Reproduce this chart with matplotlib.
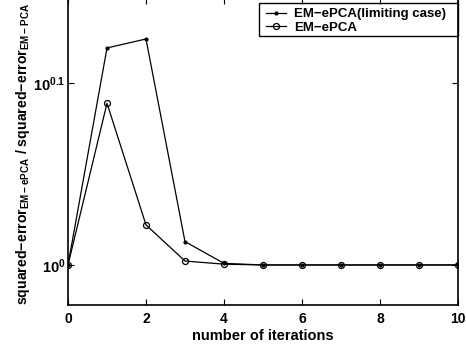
import matplotlib

matplotlib.use("Agg")
import matplotlib.pyplot as plt
from matplotlib.patches import Rectangle

plt.rcParams.update(
    {
        "font.family": ["Liberation Sans", "DejaVu Sans"],
        "font.weight": "bold",
        "axes.labelweight": "bold",
        "mathtext.fontset": "custom",
        "mathtext.rm": "Liberation Sans:bold",
        "mathtext.bf": "Liberation Sans:bold",
        "mathtext.it": "Liberation Sans:bold",
        "mathtext.sf": "Liberation Sans:bold",
        "axes.unicode_minus": True,
    }
)

iterations = [0, 1, 2, 3, 4, 5, 6, 7, 8, 9, 10]
ratio_limiting = [1.0, 1.316, 1.331, 1.030, 1.002, 1.0, 1.0, 1.0, 1.0, 1.0, 1.0]
ratio_epca = [1.0, 1.227, 1.052, 1.005, 1.001, 1.0, 1.0, 1.0, 1.0, 1.0, 1.0]
xticks = [0, 2, 4, 6, 8, 10]
yticks = [1.0, 10 ** 0.1]
ytick_labels = [r"$10^{0}$", r"$10^{0.1}$"]

W, H = 466, 348
fig = plt.figure(figsize=(W / 100, H / 100), dpi=100, facecolor="white")
ax = fig.add_axes([68 / W, (H - 305) / H, (458 - 68) / W, (305 + 2) / H])

ax.plot(iterations, ratio_limiting, "k-", marker=".", markersize=4, lw=0.9,
        label="EM\u2212ePCA(limiting case)")
ax.plot(iterations, ratio_epca, "k-", marker="o", markersize=4.3, lw=0.9,
        markerfacecolor="none", markeredgewidth=0.9, label="EM\u2212ePCA")

ax.set_yscale("log")
ax.set_xlim(0, 10)
ax.set_ylim(10 ** -0.022, 10 ** 0.1467)
ax.set_xticks(xticks)
ax.set_xticklabels([str(t) for t in xticks], fontsize=10, fontweight="bold")
ax.set_yticks(yticks)
ax.set_yticklabels(ytick_labels, fontsize=10.5)
ax.minorticks_off()
ax.tick_params(direction="in", length=4, width=0.8, top=True, right=True, pad=5)
ax.tick_params(axis="y", pad=2)
for s in ax.spines.values():
    s.set_linewidth(1.2)

ax.set_xlabel("number of iterations", fontsize=10.5, fontweight="bold", labelpad=2)
ax.set_ylabel(r"squared$-$error$_{\mathrm{EM-ePCA}}$ / squared$-$error$_{\mathrm{EM-PCA}}$",
              fontsize=10.2, fontweight="bold")
ax.yaxis.set_label_coords(-0.093, 0.492)

# legend text/handles without frame; frame drawn separately (MATLAB-like padding)
leg = ax.legend(loc="upper left", bbox_to_anchor=(266 / W, 1 - 8 / H),
                bbox_transform=fig.transFigure,
                prop={"weight": "bold", "size": 9.5}, frameon=False,
                handlelength=1.5, handletextpad=0.6, borderpad=0.0,
                labelspacing=0.1, borderaxespad=0.0)
fig.add_artist(Rectangle((259 / W, (H - 36) / H), 199 / W, 33 / H,
                         transform=fig.transFigure, fill=False,
                         edgecolor="black", linewidth=1.0, zorder=10))

fig.savefig("out.png", dpi=100, facecolor="white")
